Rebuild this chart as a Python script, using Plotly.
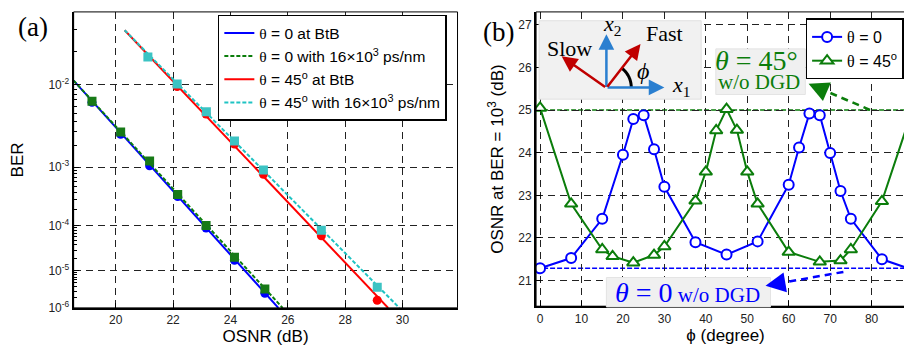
import numpy as np
import plotly.graph_objects as go

W, H = 912, 350

# ---------------- Panel (a) data ----------------
osnr_b0 = [19.17, 20.17, 21.18, 22.16, 23.15, 24.14, 25.20]
ber_b0 = [6.6e-3, 2.8e-3, 1.05e-3, 3.4e-4, 8.9e-5, 1.8e-5, 2.6e-6]
osnr_g0 = [19.17, 20.17, 21.18, 22.16, 23.15, 24.14, 25.20]
ber_g0 = [6.8e-3, 3.0e-3, 1.23e-3, 3.7e-4, 1.0e-4, 2.1e-5, 3.4e-6]
osnr_r45 = [22.14, 23.15, 24.14, 25.15, 27.17, 29.12]
ber_r45 = [9.6e-3, 4.9e-3, 2.1e-3, 7.8e-4, 6.2e-5, 1.66e-6]
osnr_c45 = [21.12, 22.14, 23.16, 24.14, 25.15, 27.17, 29.12]
ber_c45 = [1.8e-2, 1.02e-2, 5.2e-3, 2.3e-3, 9.1e-4, 8.1e-5, 3.8e-6]

# fitted lines (end points)
fit_b0_x, fit_b0_y = [18.53, 25.67], [1.1e-2, 1e-6]
fit_g0_x, fit_g0_y = [18.53, 25.82], [1.1e-2, 1e-6]
fit_r45_x, fit_r45_y = [20.31, 29.50], [2.96e-2, 1e-6]
fit_c45_x, fit_c45_y = [20.31, 29.89], [2.96e-2, 1e-6]

ber_ticks = [1e-2, 1e-3, 1e-4, 1e-5, 1e-6]
ber_ticktext = ["10<sup>-2</sup>", "10<sup>-3</sup>", "10<sup>-4</sup>", "10<sup>-5</sup>", "10<sup>-6</sup>"]
osnr_ticks = [20, 22, 24, 26, 28, 30]

# ---------------- Panel (b) data ----------------
phi_t0 = [0, 7.5, 15, 20, 22.5, 25, 27.5, 30, 37.5, 45, 52.5, 60, 62.5, 65, 67.5, 70, 72.5, 75, 82.5, 90]
osnr_t0 = [21.29, 21.53, 22.45, 23.95, 24.79, 24.88, 24.08, 23.20, 21.90, 21.61, 21.92, 23.25,
           24.12, 24.92, 24.88, 23.99, 23.10, 22.45, 21.50, 21.25]
phi_t45 = [0, 7.5, 15, 17.5, 22.5, 27.5, 30, 37.5, 40, 42.5, 45, 47.5, 50, 52.5, 60, 67.5, 72.5, 75, 82.5, 90]
osnr_t45 = [25.05, 22.80, 21.73, 21.57, 21.42, 21.60, 21.80, 22.87, 23.55, 24.52, 25.02, 24.53,
            23.55, 22.80, 21.67, 21.44, 21.47, 21.73, 22.86, 25.05]
ref_t45 = 25.0   # theta = 45 deg w/o DGD
ref_t0 = 21.29   # theta = 0 w/o DGD


def bscale(b):
    b = np.asarray(b, dtype=float)
    return -np.log10(-np.log10(b))


def px(x):
    return x / W


def py(y):
    return 1 - y / H


BLUE = "#0000ff"
GREEN = "#0b7d0b"
RED = "#ff0000"
CYAN = "#1fc3c3"
SERIF = "Liberation Serif"
SANS = "Liberation Sans"

fig = go.Figure()


def th(s):
    return "<span style='font-family:Liberation Serif'>θ</span>" + s


# panel (a) traces
fig.add_trace(go.Scatter(x=fit_b0_x, y=bscale(fit_b0_y), mode="lines", line=dict(color=BLUE, width=2),
                         name=th(" = 0 at BtB"), legend="legend"))
fig.add_trace(go.Scatter(x=osnr_b0, y=bscale(ber_b0), mode="markers", showlegend=False,
                         marker=dict(symbol="circle", size=9, color=BLUE)))
fig.add_trace(go.Scatter(x=fit_g0_x, y=bscale(fit_g0_y), mode="lines", line=dict(color=GREEN, width=2, dash="4px,2px"),
                         name=th(" = 0 with 16×10<sup>3</sup> ps/nm"), legend="legend"))
fig.add_trace(go.Scatter(x=osnr_g0, y=bscale(ber_g0), mode="markers", showlegend=False,
                         marker=dict(symbol="square", size=9, color="#177a17")))
fig.add_trace(go.Scatter(x=fit_r45_x, y=bscale(fit_r45_y), mode="lines", line=dict(color=RED, width=2),
                         name=th(" = 45<sup>o</sup> at BtB"), legend="legend"))
fig.add_trace(go.Scatter(x=osnr_r45, y=bscale(ber_r45), mode="markers", showlegend=False,
                         marker=dict(symbol="circle", size=9, color=RED)))
fig.add_trace(go.Scatter(x=fit_c45_x, y=bscale(fit_c45_y), mode="lines", line=dict(color=CYAN, width=2, dash="4px,2px"),
                         name=th(" = 45<sup>o</sup> with 16×10<sup>3</sup> ps/nm"), legend="legend"))
fig.add_trace(go.Scatter(x=osnr_c45, y=bscale(ber_c45), mode="markers", showlegend=False,
                         marker=dict(symbol="square", size=9, color="#3cc3c3")))

# panel (b) traces
fig.add_trace(go.Scatter(x=phi_t0, y=osnr_t0, xaxis="x2", yaxis="y2", mode="lines+markers",
                         line=dict(color=BLUE, width=2),
                         marker=dict(symbol="circle", size=10, color="white", line=dict(color=BLUE, width=2)),
                         name=th(" = 0"), legend="legend2"))
fig.add_trace(go.Scatter(x=phi_t45, y=osnr_t45, xaxis="x2", yaxis="y2", mode="lines+markers",
                         line=dict(color=GREEN, width=2),
                         marker=dict(symbol="triangle-up", size=11, color="white", line=dict(color=GREEN, width=2)),
                         name=th(" = 45<sup>o</sup>"), legend="legend2"))

# minor ticks for BER axis
minor_vals = []
for k in range(-6, -1):
    for m in range(2, 10):
        v = m * 10.0 ** k
        if v < 0.04:
            minor_vals.append(v)

grid = dict(showgrid=True, gridcolor="#222222", gridwidth=1, griddash="7px,5px", zeroline=False)
axfont = dict(family=SANS, size=12, color="#222222")

fig.update_layout(
    width=W, height=H, margin=dict(l=0, r=0, t=0, b=0),
    paper_bgcolor="white", plot_bgcolor="white",
    font=dict(family=SANS, color="black"),
    xaxis=dict(domain=[66 / W, 452 / W], range=[18.53, 31.92], tickvals=osnr_ticks, ticks="inside", ticklen=5,
               tickcolor="black", showline=True, linecolor="black", linewidth=2, tickfont=axfont,
               title=dict(text="OSNR (dB)", font=dict(family=SANS, size=17), standoff=1), **grid),
    yaxis=dict(domain=[py(306), py(4)], range=[bscale(1e-6), -0.1451], tickvals=list(bscale(ber_ticks)),
               ticktext=ber_ticktext, ticks="inside", ticklen=5, tickcolor="black", showline=True,
               linecolor="black", linewidth=2, tickfont=axfont,
               minor=dict(tickmode="array", tickvals=list(bscale(minor_vals)), ticks="inside", ticklen=3,
                          tickcolor="black", showgrid=False),
               title=dict(text="BER", font=dict(family=SANS, size=17), standoff=20), **grid),
    xaxis2=dict(domain=[531 / W, 1.0], range=[-0.96, 90.48], anchor="y2", tickvals=list(range(0, 91, 10)),
                ticks="inside", ticklen=5, tickcolor="black", showline=True, linecolor="black", linewidth=2,
                tickfont=axfont, ticklabeloverflow="allow",
                title=dict(text="ϕ (degree)", font=dict(family=SANS, size=17), standoff=1), **grid),
    yaxis2=dict(domain=[py(304.3), py(4)], range=[20.40, 27.30], anchor="x2", tickvals=list(range(21, 28)),
                ticks="inside", ticklen=5, tickcolor="black", showline=True, linecolor="black", linewidth=2,
                tickfont=axfont,
                title=dict(text="OSNR at BER = 10<sup>3</sup> (dB)", font=dict(family=SANS, size=17), standoff=10),
                **grid),
    legend=dict(x=px(211), y=py(7), xanchor="left", yanchor="top", bgcolor="white", bordercolor="black",
                borderwidth=1.5, font=dict(family=SANS, size=15.5, color="black"), tracegroupgap=0),
    legend2=dict(x=px(802), y=py(10.7), xanchor="left", yanchor="top", bgcolor="white", bordercolor="black",
                 borderwidth=1.5, font=dict(family=SANS, size=16, color="black")),
)

shapes = []
# thin frame top/right of the panels
shapes.append(dict(type="rect", xref="x domain", yref="y domain", x0=0, x1=1, y0=0, y1=1,
                   line=dict(color="black", width=1), layer="above"))
shapes.append(dict(type="rect", xref="x2 domain", yref="y2 domain", x0=0, x1=1, y0=0, y1=1,
                   line=dict(color="black", width=1), layer="above"))
# reference lines in panel b
shapes.append(dict(type="line", xref="x2 domain", yref="y2", x0=0, x1=1, y0=ref_t45, y1=ref_t45,
                   line=dict(color=GREEN, width=1.3, dash="5px,2px"), layer="below"))
shapes.append(dict(type="line", xref="x2 domain", yref="y2", x0=0, x1=1, y0=ref_t0, y1=ref_t0,
                   line=dict(color=BLUE, width=1.3, dash="5px,2px"), layer="below"))
# inset box
shapes.append(dict(type="rect", xref="paper", yref="paper", x0=px(534), x1=px(697), y0=py(93), y1=py(13),
                   fillcolor="#f1f1f1", line=dict(color="#e0e0e0", width=1), layer="above"))
# annotation boxes
shapes.append(dict(type="rect", xref="paper", yref="paper", x0=px(711.7), x1=px(801.7), y0=py(88.3), y1=py(41.7),
                   fillcolor="#f0f0f0", line=dict(color="#e4e4e4", width=1), layer="above"))
shapes.append(dict(type="rect", xref="paper", yref="paper", x0=px(601.7), x1=px(766.7), y0=py(305), y1=py(275),
                   fillcolor="#f0f0f0", line=dict(color="#e4e4e4", width=1), layer="above"))
# dashed arrow shafts
shapes.append(dict(type="line", xref="paper", yref="paper", x0=px(866.7), y0=py(104), x1=px(816), y1=py(82),
                   line=dict(color=GREEN, width=2.5, dash="7px,5px"), layer="above"))
shapes.append(dict(type="line", xref="paper", yref="paper", x0=px(840), y0=py(269.3), x1=px(772), y1=py(281.5),
                   line=dict(color=BLUE, width=2.5, dash="7px,5px"), layer="above"))
# phi arc
cx, cy, r = 601.7, 81.0, 25.0
ang = np.linspace(0, np.deg2rad(52), 20)
pts = [(px(cx + r * np.cos(a)), py(cy - r * np.sin(a))) for a in ang]
path = "M " + " L ".join(f"{a:.5f},{b:.5f}" for a, b in pts)
shapes.append(dict(type="path", xref="paper", yref="paper", path=path, line=dict(color="black", width=3),
                   layer="above"))
fig.update_layout(shapes=shapes)

ann = []


def arrow(hx, hy, tx, ty, color, width=2.5, size=1.0):
    ann.append(dict(xref="paper", yref="paper", x=px(hx), y=py(hy), ax=tx - hx, ay=ty - hy, axref="pixel",
                    ayref="pixel", text="", showarrow=True, arrowhead=2, arrowsize=size, arrowwidth=width,
                    arrowcolor=color, standoff=0, startstandoff=0))


def label(x, y, text, size, color="black", family=SERIF, xanchor="center"):
    ann.append(dict(xref="paper", yref="paper", x=px(x), y=py(y), text=text, showarrow=False,
                    font=dict(family=family, size=size, color=color), xanchor=xanchor, yanchor="middle"))


# inset arrows
arrow(601.7, 26.7, 601.7, 81, "#2a7fd0", size=1.25)
arrow(660, 81, 601.7, 81, "#2a7fd0", size=1.25)
arrow(636, 36.7, 601.7, 81, "#c00000", size=1.25)
arrow(556.7, 49.3, 601.7, 81, "#c00000", size=1.25)
label(607, 17, "<i>x</i><sub>2</sub>", 22)
label(660.5, 26, "Fast", 22)
label(564.7, 41, "Slow", 22)
label(638.5, 64, "<i>ϕ</i>", 24)
label(677, 80, "<i>x</i><sub>1</sub>", 22)
# dashed arrow heads
arrow(805, 77.3, 817, 82.5, GREEN, width=2.5, size=1.6)
arrow(761.7, 283.3, 774, 281.2, BLUE, width=2.5, size=1.6)
# annotation texts
label(752.5, 54, "<i>θ</i> = 45°", 28, GREEN)
label(755, 75.5, "w/o DGD", 21, GREEN)
label(683, 290, "<span style='font-size:28px'><i>θ</i> = 0</span> w/o DGD", 21, BLUE)
# panel labels
label(25, 19, "(a)", 27)
label(493, 25, "(b)", 27)
fig.update_layout(annotations=ann)

fig.write_html("out.html")
